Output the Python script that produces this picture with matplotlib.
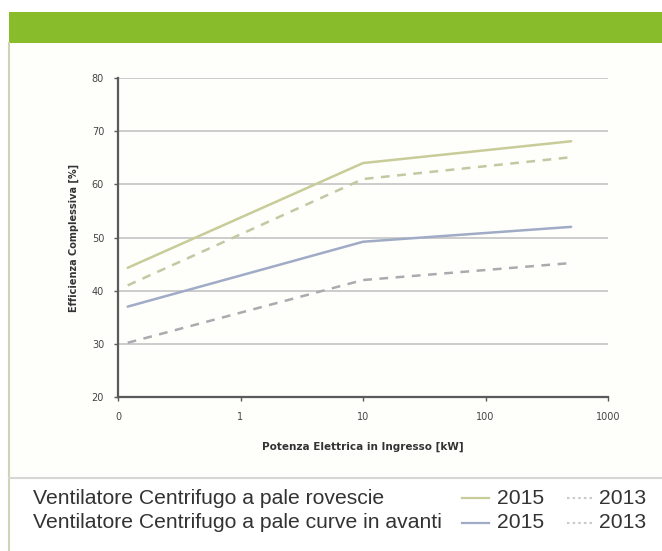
import matplotlib
matplotlib.use("Agg")
import matplotlib.pyplot as plt
from matplotlib.lines import Line2D
from matplotlib.patches import Rectangle

# Data
power_kw = [0.12, 10, 500]
back_2015 = [44.3, 64, 68.1]
back_2013 = [41, 61, 65.1]
fwd_2015 = [37, 49.2, 52]
fwd_2013 = [30.2, 42, 45.2]
x_ticks = [0.1, 1, 10, 100, 1000]
x_tick_labels = ["0", "1", "10", "100", "1000"]
y_ticks = [20, 30, 40, 50, 60, 70, 80]

legend_rows = ["Ventilatore Centrifugo a pale rovescie",
               "Ventilatore Centrifugo a pale curve in avanti"]
years = ["2015", "2013"]

green_solid = "#c8cc98"
green_dash = "#c4c8a2"
blue_solid = "#a0abc6"
blue_dash = "#ababaf"

W, H = 662, 551
fig = plt.figure(figsize=(W / 100, H / 100), dpi=100)
fig.patch.set_facecolor("white")

def fx(px):
    return px / W

def fy(py):
    return 1 - py / H

# panel background and decorations
fig.add_artist(Rectangle((fx(9), fy(478)), 1 - fx(9), fy(43) - fy(478),
                         transform=fig.transFigure, facecolor="#fefefb",
                         edgecolor="none", zorder=0))
fig.add_artist(Rectangle((fx(9), fy(43)), 1 - fx(9), fy(12) - fy(43),
                         transform=fig.transFigure, facecolor="#88bc2a",
                         edgecolor="none", zorder=1))
fig.add_artist(Line2D([fx(9), fx(9)], [fy(43), 0], transform=fig.transFigure,
                      color="#cfd3b8", lw=1.5, zorder=1))
fig.add_artist(Line2D([fx(9), 1], [fy(478), fy(478)], transform=fig.transFigure,
                      color="#d6d6d2", lw=1.5, zorder=1))

ax = fig.add_axes([fx(118), fy(397), fx(608) - fx(118), fy(78) - fy(397)])
ax.set_facecolor("none")
ax.set_xscale("log")
ax.set_xlim(0.1, 1000)
ax.set_ylim(20, 80)

ax.plot(power_kw, back_2015, color=green_solid, lw=1.8, solid_capstyle="round", zorder=3)
ax.plot(power_kw, back_2013, color=green_dash, lw=1.8, dashes=(3.5, 3), zorder=3)
ax.plot(power_kw, fwd_2015, color=blue_solid, lw=1.8, solid_capstyle="round", zorder=3)
ax.plot(power_kw, fwd_2013, color=blue_dash, lw=1.8, dashes=(3.5, 3), zorder=3)

ax.set_xticks(x_ticks)
ax.set_xticklabels(x_tick_labels)
ax.xaxis.set_minor_locator(matplotlib.ticker.NullLocator())
ax.set_yticks(y_ticks)
ax.yaxis.grid(True, color="#c4c4c4", lw=1.2)
ax.set_axisbelow(True)
for s in ["top", "right"]:
    ax.spines[s].set_visible(False)
for s in ["left", "bottom"]:
    ax.spines[s].set_color("#5a5a5a")
    ax.spines[s].set_linewidth(1.6)
ax.tick_params(axis="both", labelsize=7, colors="#5a5a5a", length=3, width=1,
               labelcolor="#444444")
ax.tick_params(axis="x", pad=8)
ax.tick_params(axis="y", pad=7)
ax.set_xlabel("Potenza Elettrica in Ingresso [kW]", fontsize=7.5, fontweight="bold",
              color="#333333", labelpad=14)
ax.set_ylabel("Efficienza Complessiva [%]", fontsize=7, fontweight="bold",
              color="#333333", labelpad=9)

# legend (manual)
fam = ["Liberation Sans", "DejaVu Sans"]
row_y = [498, 523]
colors_2015 = [green_solid, blue_solid]
fs = 15.2
for i, label in enumerate(legend_rows):
    y = fy(row_y[i])
    fig.text(fx(33), y, label, fontsize=fs, family=fam, color="#333333",
             va="center", ha="left")
    fig.add_artist(Line2D([fx(462), fx(489)], [y, y], transform=fig.transFigure,
                          color=colors_2015[i], lw=1.6))
    fig.text(fx(497), y, years[0], fontsize=fs, family=fam, color="#333333",
             va="center", ha="left")
    fig.add_artist(Line2D([fx(567), fx(594)], [y, y], transform=fig.transFigure,
                          color="#cacaca", lw=1.5, dashes=(1.2, 1.5)))
    fig.text(fx(599), y, years[1], fontsize=fs, family=fam, color="#333333",
             va="center", ha="left")

fig.savefig("out.png", dpi=100)
